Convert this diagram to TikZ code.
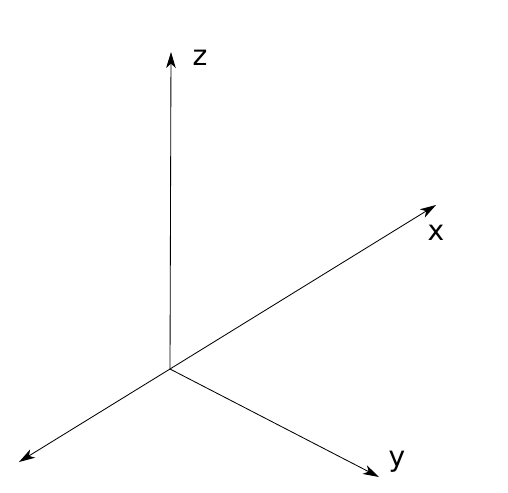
\documentclass[tikz,border=0pt]{standalone}
\usepackage{fontspec}
\setmainfont{DejaVu Sans}
\usetikzlibrary{arrows.meta}
\begin{document}
\begin{tikzpicture}[x=0.025cm,y=-0.025cm,
  axis/.style={line width=0.6pt,-{Stealth[length=4mm,width=2.4mm,inset=1.1mm]}},
  axislabel/.style={inner sep=0pt,font=\fontsize{20}{22}\selectfont}]
  \useasboundingbox (0,0) rectangle (508,493);
  % origin and the tips of the axes
  \coordinate (O) at (170,369);
  \coordinate (zTip) at (171,52);
  \coordinate (xTip) at (436,205);
  \coordinate (yTip) at (379,477);
  \coordinate (mTip) at (19,462);
  \draw [axis] (O) -- (zTip);
  \draw [axis] (O) -- (xTip);
  \draw [axis] (O) -- (yTip);
  \draw [axis] (O) -- (mTip);
  % labels
  \node [axislabel] (zLabel) at (200,58) {z};
  \node [axislabel] (xLabel) at (436,233) {x};
  \node [axislabel] (yLabel) at (397,462) {y};
\end{tikzpicture}
\end{document}
